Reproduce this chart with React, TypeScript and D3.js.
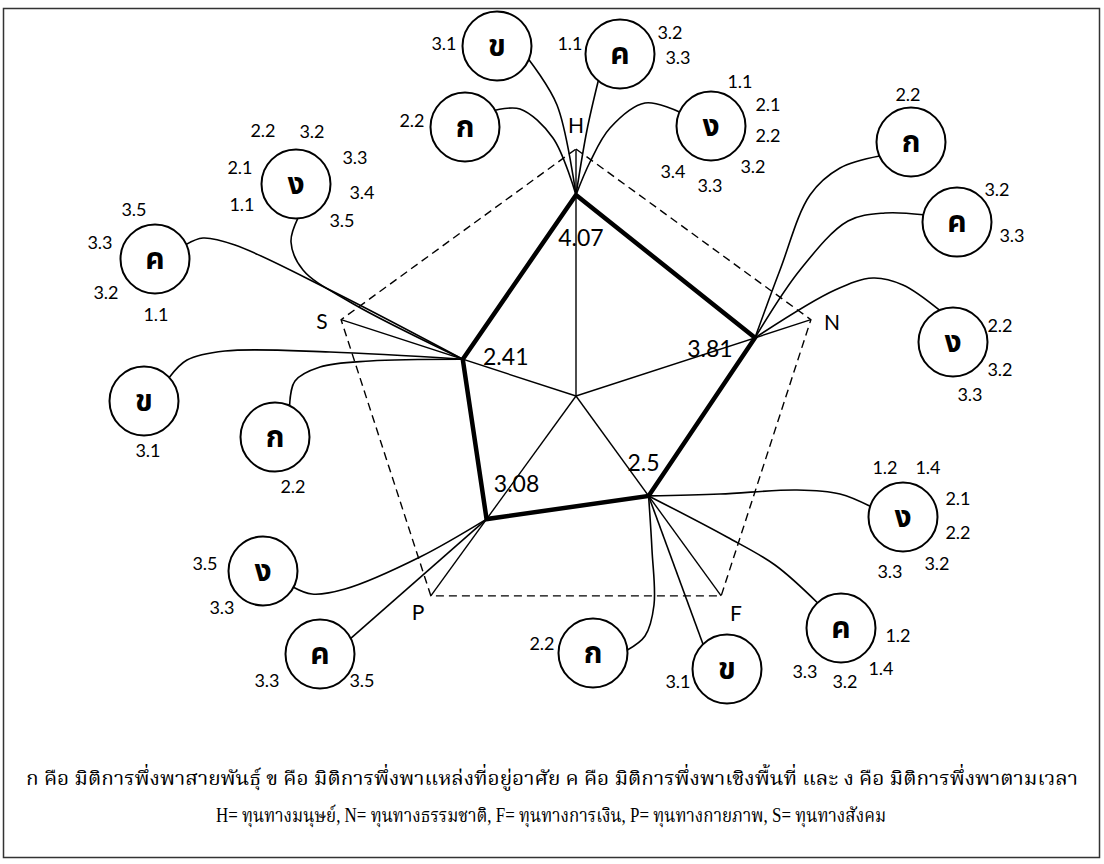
import React from 'react';
import * as d3 from 'd3';

const W = 1104;
const H = 864;

// capital scores on the radar
const axes = ['H', 'N', 'F', 'P', 'S'];
const scores = [4.07, 3.81, 2.5, 3.08, 2.41];
const scoreText = ['4.07', '3.81', '2.5', '3.08', '2.41'];
const maxScore = 5;

// dependency bubbles hanging off each capital: letter + indicator codes
const hLetters = ['ข', 'ค', 'ก', 'ง'];
const hCodes = [['3.1'], ['1.1', '3.2', '3.3'], ['2.2'], ['1.1', '2.1', '2.2', '3.2', '3.3', '3.4']];
const nLetters = ['ก', 'ค', 'ง'];
const nCodes = [['2.2'], ['3.2', '3.3'], ['2.2', '3.2', '3.3']];
const fLetters = ['ก', 'ข', 'ค', 'ง'];
const fCodes = [['2.2'], ['3.1'], ['1.2', '1.4', '3.2', '3.3'], ['1.2', '1.4', '2.1', '2.2', '3.2', '3.3']];
const pLetters = ['ง', 'ค'];
const pCodes = [['3.5', '3.3'], ['3.3', '3.5']];
const sLetters = ['ง', 'ค', 'ข', 'ก'];
const sCodes = [['2.2', '3.2', '2.1', '3.3', '1.1', '3.4', '3.5'], ['3.5', '3.3', '3.2', '1.1'], ['3.1'], ['2.2']];

const legendLines = [
  'ก คือ มิติการพึ่งพาสายพันธุ์  ข คือ มิติการพึ่งพาแหล่งที่อยู่อาศัย  ค คือ มิติการพึ่งพาเชิงพื้นที่ และ ง คือ มิติการพึ่งพาตามเวลา',
  'H= ทุนทางมนุษย์, N= ทุนทางธรรมชาติ, F= ทุนทางการเงิน, P= ทุนทางกายภาพ, S= ทุนทางสังคม',
];

// ---- layout (positions only) ----
type Pt = [number, number];
type Bubble = { c: Pt; at: number; via: Pt[]; labels: Pt[] };

const hLayout: Bubble[] = [
  { c: [497, 46], at: 23, via: [[557, 105]], labels: [[444, 43]] },
  { c: [620, 54], at: 129, via: [[587, 130]], labels: [[570, 43], [670, 32], [678, 57]] },
  { c: [465, 127], at: -29, via: [[520, 109], [553, 138]], labels: [[412, 120]] },
  { c: [711, 126], at: -156, via: [[645, 103], [610, 128], [590, 162]],
    labels: [[740, 81], [768, 104], [768, 135], [753, 166], [710, 185], [673, 171]] },
];
const nLayout: Bubble[] = [
  { c: [911, 142], at: 156, via: [[840, 168], [810, 195], [780, 270]], labels: [[908, 94]] },
  { c: [957, 222], at: -168, via: [[885, 213], [848, 221], [800, 270]], labels: [[997, 189], [1012, 235]] },
  { c: [953, 342], at: -113, via: [[903, 285], [873, 278], [835, 290]], labels: [[1000, 325], [1000, 369], [970, 394]] },
];
const fLayout: Bubble[] = [
  { c: [593, 653], at: -5, via: [[645, 636], [654, 605], [652, 550]], labels: [[542, 643]] },
  { c: [727, 669], at: -134, via: [], labels: [[678, 681]] },
  { c: [841, 628], at: -133, via: [[775, 565], [727, 537]], labels: [[898, 635], [881, 668], [845, 681], [805, 671]] },
  { c: [903, 517], at: -162, via: [[840, 494], [797, 490], [720, 494]],
    labels: [[885, 467], [928, 467], [958, 498], [958, 532], [937, 563], [890, 571]] },
];
const pLayout: Bubble[] = [
  { c: [263, 571], at: 28, via: [[312, 594], [345, 589], [420, 557]], labels: [[205, 563], [222, 607]] },
  { c: [320, 654], at: -27, via: [], labels: [[267, 680], [362, 680]] },
];
const sLayout: Bubble[] = [
  { c: [296, 184], at: 87, via: [[291, 242], [303, 270], [350, 302]],
    labels: [[263, 130], [312, 131], [240, 167], [355, 157], [242, 204], [362, 192], [342, 220]] },
  { c: [155, 259], at: -25, via: [[203, 238], [235, 245], [330, 290]], labels: [[134, 209], [100, 242], [106, 292], [156, 314]] },
  { c: [144, 401], at: -43, via: [[187, 360], [225, 351], [330, 352]], labels: [[148, 450]] },
  { c: [275, 437], at: -65, via: [[295, 381], [320, 367], [370, 361]], labels: [[293, 486]] },
];

const groups = [
  { axis: 0, letters: hLetters, codes: hCodes, layout: hLayout },
  { axis: 1, letters: nLetters, codes: nCodes, layout: nLayout },
  { axis: 2, letters: fLetters, codes: fCodes, layout: fLayout },
  { axis: 3, letters: pLetters, codes: pCodes, layout: pLayout },
  { axis: 4, letters: sLetters, codes: sCodes, layout: sLayout },
];

const axisLabelPos: Pt[] = [[576, 124], [832, 321], [736, 612], [418, 611], [322, 320]];
const valueOffset: Pt[] = [[5, 42], [-45, 10], [-5, -34], [30, -36], [43, -3]];

const cx = 576;
const cy = 396;
const R = 34.5;
const numFont = 'Lato, "Noto Sans", sans-serif';
const thaiFont = 'Tahoma, "Noto Sans Thai", "Noto Sans", sans-serif';
const legendFont = '"Liberation Serif", "Noto Serif Thai", "Noto Serif", serif';

const App = () => {
  const r = d3.scaleLinear().domain([0, maxScore]).range([0, 247]);
  const ang = (i: number) => (i * 2 * Math.PI) / axes.length;
  const pt = (i: number, v: number): Pt => [
    cx + r(v) * Math.sin(ang(i)),
    cy - r(v) * Math.cos(ang(i)),
  ];

  const closed = d3.line<Pt>().curve(d3.curveLinearClosed);
  const curve = d3.line<Pt>().curve(d3.curveCatmullRom.alpha(0.5));

  const outer = axes.map((_, i) => pt(i, maxScore));
  const inner = scores.map((v, i) => pt(i, v));

  return (
    <div style={{ position: 'absolute', left: 0, top: 0 }}>
      <svg width={W} height={H} style={{ display: 'block', background: '#fff' }}>
        <rect x={3.5} y={8.5} width={1096} height={849} fill="none" stroke="#333" strokeWidth={1.5} />

        {/* outer dashed frame */}
        <path d={closed(outer) || ''} fill="none" stroke="#000" strokeWidth={1.4} strokeDasharray="8,5" />

        {/* spokes */}
        {outer.map((p, i) => (
          <line key={'sp' + i} x1={cx} y1={cy} x2={p[0]} y2={p[1]} stroke="#000" strokeWidth={1.4} />
        ))}

        {/* connectors from each score point to its bubbles */}
        {groups.map((g) =>
          g.layout.map((b, j) => {
            const a = (b.at * Math.PI) / 180;
            const edge: Pt = [b.c[0] + R * Math.cos(a), b.c[1] + R * Math.sin(a)];
            const pts: Pt[] = [edge, ...b.via, inner[g.axis]];
            return (
              <path key={'cn' + g.axis + '-' + j} d={curve(pts) || ''} fill="none" stroke="#000" strokeWidth={1.6} />
            );
          })
        )}

        {/* score polygon */}
        <path d={closed(inner) || ''} fill="none" stroke="#000" strokeWidth={4.5} strokeLinejoin="miter" />

        {/* score values */}
        {inner.map((p, i) => (
          <text key={'v' + i} x={p[0] + valueOffset[i][0]} y={p[1] + valueOffset[i][1]}
            textAnchor="middle" dominantBaseline="central" fontFamily={numFont} fontSize={23} fill="#000">
            {scoreText[i]}
          </text>
        ))}

        {/* axis letters */}
        {axes.map((a, i) => (
          <text key={'ax' + i} x={axisLabelPos[i][0]} y={axisLabelPos[i][1]}
            textAnchor="middle" dominantBaseline="central" fontFamily={numFont} fontSize={21} fill="#000">
            {a}
          </text>
        ))}

        {/* bubbles */}
        {groups.map((g) =>
          g.layout.map((b, j) => (
            <g key={'b' + g.axis + '-' + j}>
              <circle cx={b.c[0]} cy={b.c[1]} r={R} fill="#fff" stroke="#000" strokeWidth={2} />
              <text x={b.c[0]} y={b.c[1] + 1} textAnchor="middle" dominantBaseline="central"
                fontFamily={thaiFont} fontWeight="bold" fontSize={30} fill="#000">
                {g.letters[j]}
              </text>
              {g.codes[j].map((c, k) => (
                <text key={k} x={b.labels[k][0]} y={b.labels[k][1]} textAnchor="middle" dominantBaseline="central"
                  fontFamily={numFont} fontSize={18} fill="#000">
                  {c}
                </text>
              ))}
            </g>
          ))
        )}

        {/* legend */}
        <text x={552} y={785} textAnchor="middle" fontFamily={legendFont} fontSize={20}
          textLength={1052} lengthAdjust="spacingAndGlyphs" fill="#000">
          {legendLines[0]}
        </text>
        <text x={551} y={822} textAnchor="middle" fontFamily={legendFont} fontSize={20}
          textLength={670} lengthAdjust="spacingAndGlyphs" fill="#000">
          {legendLines[1]}
        </text>
      </svg>
    </div>
  );
};

export default App;
